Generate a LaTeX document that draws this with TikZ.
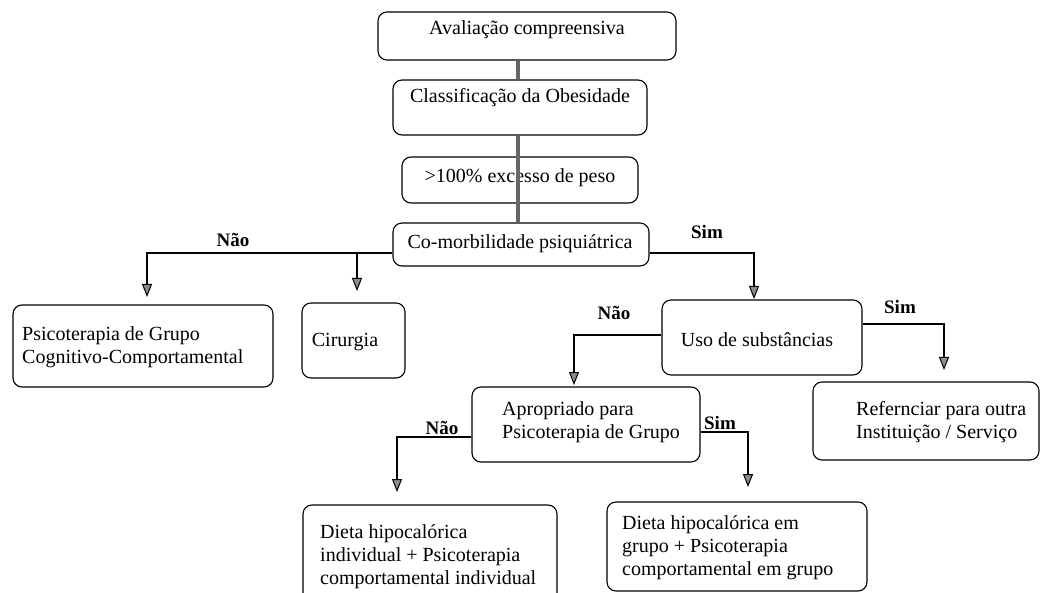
\documentclass[tikz,border=0pt]{standalone}
\usepackage{fontspec}
\setmainfont{Liberation Serif}
\usetikzlibrary{arrows.meta}
\begin{document}
\begin{tikzpicture}[x=1pt,y=-1pt,
  box/.style={draw,rounded corners=9pt,line width=1.1pt,inner sep=0pt},
  txt/.style={inner sep=0pt,font=\fontsize{20}{23}\selectfont,align=left},
  lbl/.style={inner sep=0pt,font=\fontsize{19}{22}\selectfont\bfseries},
  conn/.style={line width=1.1pt,-{Triangle[width=10pt,length=13pt,fill=black!45,line width=1pt]}},
  stem/.style={line width=3.2pt,draw=black!60}]
\useasboundingbox (0,0) rectangle (1041,593);
\fill[white] (0,0) rectangle (1041,593);
\clip (0,0) rectangle (1041,593);

% boxes
\node[box,minimum width=298pt,minimum height=48pt] (a) at (527,36) {};
\node[box,minimum width=254pt,minimum height=55pt] (b) at (520,107.5) {};
\node[box,minimum width=236pt,minimum height=46pt] (c) at (520,180) {};
\node[box,minimum width=256pt,minimum height=43pt] (d) at (521,244.5) {};
\node[box,minimum width=260pt,minimum height=82pt] (e) at (143,346) {};
\node[box,minimum width=103pt,minimum height=75pt] (f) at (353.5,340.5) {};
\node[box,minimum width=200pt,minimum height=75pt] (g) at (762,337.5) {};
\node[box,minimum width=228pt,minimum height=75pt] (h) at (586,424.5) {};
\node[box,minimum width=226pt,minimum height=78pt] (i) at (926,421) {};
\node[box,minimum width=254pt,minimum height=100pt] (j) at (430,555) {};
\node[box,minimum width=260pt,minimum height=89pt] (k) at (737,546.5) {};

% texts
\node[txt] (ta) at (527,30) {Avaliação compreensiva};
\node[txt] (tb) at (520,98) {Classificação da Obesidade};
\node[txt] (tc) at (520,178) {>100\% excesso de peso};
\node[txt] (td) at (520,244) {Co-morbilidade psiquiátrica};
\node[txt,anchor=west] (te) at (22,347) {Psicoterapia de Grupo\\Cognitivo-Comportamental};
\node[txt] (tf) at (345,342) {Cirurgia};
\node[txt] (tg) at (757,340) {Uso de substâncias};
\node[txt,anchor=west] (th) at (502,422) {Apropriado para\\Psicoterapia de Grupo};
\node[txt,anchor=west] (ti) at (856,422) {Refernciar para outra\\Instituição / Serviço};
\node[txt,anchor=west] (tj) at (320,557) {Dieta hipocalórica\\individual + Psicoterapia\\comportamental individual};
\node[txt,anchor=west] (tk) at (622,548) {Dieta hipocalórica em\\grupo + Psicoterapia\\comportamental em grupo};

% labels
\node[lbl] (l1) at (233,240) {Não};
\node[lbl] (l2) at (707,232) {Sim};
\node[lbl] (l3) at (614,313) {Não};
\node[lbl] (l4) at (900,307) {Sim};
\node[lbl] (l5) at (442,428) {Não};
\node[lbl] (l6) at (720,423) {Sim};

% arrow end coordinates
\coordinate (ea) at (147,297);
\coordinate (fj) at (357,253);
\coordinate (fa) at (357,291);
\coordinate (ga) at (754,299);
\coordinate (ha) at (574,385);
\coordinate (ia) at (944,370);
\coordinate (ja) at (397,492);
\coordinate (ka) at (748,487);

% stem
\draw[stem] ([xshift=-2pt]b.north |- a.south) -- ([xshift=-2pt]b.north);
\draw[stem] ([xshift=-2pt]b.south) -- ([xshift=-2pt]b.south |- d.north);

% connectors
\draw[conn] ([yshift=-8.5pt]d.west) -| (ea);
\draw[conn] (fj) -- (fa);
\draw[conn] ([yshift=-8.5pt]d.east) -| (ga);
\draw[conn] ([yshift=2.5pt]g.west) -| (ha);
\draw[conn] ([yshift=13.5pt]g.east) -| (ia);
\draw[conn] ([yshift=-12.5pt]h.west) -| (ja);
\draw[conn] ([yshift=-7.5pt]h.east) -| (ka);
\end{tikzpicture}
\end{document}
